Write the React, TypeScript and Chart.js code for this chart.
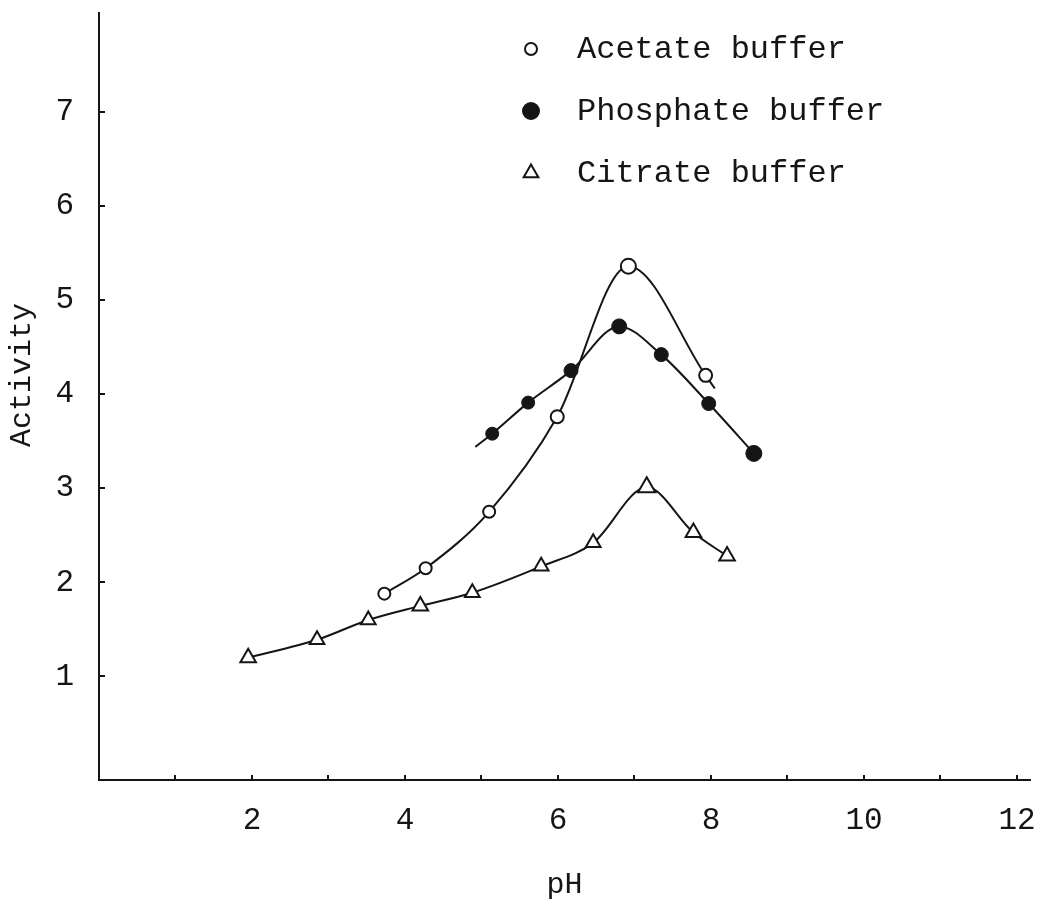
import React, { useEffect, useRef } from "react";
import { Chart, registerables } from "chart.js";
import { drawPoint } from "chart.js/helpers";

Chart.register(...registerables);

// Enzyme activity against pH in three buffer systems
const acetatePH = [3.73, 4.27, 5.1, 5.99, 6.92, 7.93];
const acetateActivity = [1.88, 2.15, 2.75, 3.76, 5.36, 4.2];
// the fitted curve runs a little past the last acetate reading
const acetateTailPH = [8.05];
const acetateTailActivity = [4.06];

const phosphatePH = [5.14, 5.61, 6.17, 6.8, 7.35, 7.97, 8.56];
const phosphateActivity = [3.58, 3.91, 4.25, 4.72, 4.42, 3.9, 3.37];
// the fitted curve starts a little before the first phosphate reading
const phosphateHeadPH = [4.92];
const phosphateHeadActivity = [3.44];

const citratePH = [1.95, 2.85, 3.52, 4.2, 4.88, 5.78, 6.46, 7.16, 7.77, 8.21];
const citrateActivity = [1.2, 1.39, 1.6, 1.75, 1.89, 2.17, 2.42, 3.01, 2.53, 2.28];

const seriesLabels = ["Acetate buffer", "Phosphate buffer", "Citrate buffer"];
const xTitle = "pH";
const yTitle = "Activity";

const xMarkValues = [1, 2, 3, 4, 5, 6, 7, 8, 9, 10, 11, 12];
const xLabelValues = [2, 4, 6, 8, 10, 12];
const yMarkValues = [1, 2, 3, 4, 5, 6, 7];
const yLabelValues = [1, 2, 3, 4, 5, 6, 7];

const FONT_FAMILY = '"Liberation Mono", "DejaVu Sans Mono", monospace';
const INK = "#151515";

const toPoints = (xs: number[], ys: number[]) => xs.map((x, i) => ({ x, y: ys[i] }));

// small inward tick marks on both axes, plus axis titles
const axisDecor = {
  id: "axisDecor",
  afterDraw(chart: any) {
    const { ctx, chartArea } = chart;
    const xs = chart.scales.x;
    const ys = chart.scales.y;
    ctx.save();
    ctx.strokeStyle = INK;
    ctx.lineWidth = 2;
    xMarkValues.forEach((v) => {
      const px = Math.round(xs.getPixelForValue(v));
      ctx.beginPath();
      ctx.moveTo(px, chartArea.bottom);
      ctx.lineTo(px, chartArea.bottom - 5);
      ctx.stroke();
    });
    yMarkValues.forEach((v) => {
      const py = Math.round(ys.getPixelForValue(v));
      ctx.beginPath();
      ctx.moveTo(chartArea.left, py);
      ctx.lineTo(chartArea.left + 6, py);
      ctx.stroke();
    });
    ctx.fillStyle = INK;
    ctx.font = `30px ${FONT_FAMILY}`;
    ctx.textAlign = "center";
    ctx.textBaseline = "middle";
    ctx.fillText(xTitle, (chartArea.left + chartArea.right) / 2, 885);
    ctx.translate(22, 375);
    ctx.rotate(-Math.PI / 2);
    ctx.fillText(yTitle, 0, 0);
    ctx.restore();
  },
};

// legend in the upper part of the plot: marker followed by its label
const markerLegend = {
  id: "markerLegend",
  afterDraw(chart: any) {
    const { ctx } = chart;
    const rows = [
      { ds: 0, y: 49, r: 6 },
      { ds: 1, y: 111, r: 8 },
      { ds: 2, y: 173, r: 8.5 },
    ];
    ctx.save();
    rows.forEach((row) => {
      const ds = chart.data.datasets[row.ds];
      ctx.fillStyle = ds.pointBackgroundColor;
      ctx.strokeStyle = INK;
      ctx.lineWidth = 2;
      drawPoint(ctx, { pointStyle: ds.pointStyle, radius: row.r, borderWidth: 2, rotation: 0 } as any, 531, row.y);
      ctx.fillStyle = INK;
      ctx.font = `32px ${FONT_FAMILY}`;
      ctx.textAlign = "left";
      ctx.textBaseline = "middle";
      ctx.fillText(ds.label, 577, row.y + 1);
    });
    ctx.restore();
  },
};

export default function App() {
  const canvasRef = useRef<HTMLCanvasElement>(null);

  useEffect(() => {
    const canvas = canvasRef.current;
    if (!canvas) return;

    const curve = (data: { x: number; y: number }[]) => ({
      data,
      showLine: true,
      pointRadius: 0,
      pointHoverRadius: 0,
      borderColor: INK,
      borderWidth: 2,
      cubicInterpolationMode: "monotone" as const,
      order: 1,
    });

    const noScalePadding = (scale: any) => {
      scale.paddingTop = 0;
      scale.paddingBottom = 0;
      scale.paddingLeft = 0;
      scale.paddingRight = 0;
    };

    const chart = new Chart(canvas, {
      type: "scatter",
      data: {
        datasets: [
          {
            label: seriesLabels[0],
            data: toPoints(acetatePH, acetateActivity),
            showLine: false,
            pointStyle: "circle",
            pointRadius: [6, 6, 6, 6.5, 7.5, 6.5],
            pointBorderWidth: 2,
            pointBackgroundColor: "#ffffff",
            pointBorderColor: INK,
            order: 0,
          },
          {
            label: seriesLabels[1],
            data: toPoints(phosphatePH, phosphateActivity),
            showLine: false,
            pointStyle: "circle",
            pointRadius: [6.5, 6.5, 7, 7.5, 7, 7, 8],
            pointBorderWidth: 1,
            pointBackgroundColor: INK,
            pointBorderColor: INK,
            order: 0,
          },
          {
            label: seriesLabels[2],
            data: toPoints(citratePH, citrateActivity),
            showLine: false,
            pointStyle: "triangle",
            pointRadius: [9, 8.5, 8.5, 9, 8.5, 8.5, 8.5, 10, 9, 9],
            pointBorderWidth: 2,
            pointBackgroundColor: "#ffffff",
            pointBorderColor: INK,
            order: 0,
          },
          curve(toPoints([...acetatePH, ...acetateTailPH], [...acetateActivity, ...acetateTailActivity])) as any,
          curve(toPoints([...phosphateHeadPH, ...phosphatePH], [...phosphateHeadActivity, ...phosphateActivity])) as any,
          curve(toPoints(citratePH, citrateActivity)) as any,
        ],
      },
      options: {
        animation: false,
        responsive: false,
        events: [],
        layout: { padding: { top: 13, right: 12, left: 0, bottom: 0 } },
        plugins: {
          legend: { display: false },
          tooltip: { enabled: false },
        },
        scales: {
          x: {
            type: "linear",
            min: 0,
            max: 12.17,
            grid: { display: false, drawTicks: false },
            border: { display: true, color: INK, width: 2 },
            ticks: {
              color: INK,
              padding: 22,
              font: { family: FONT_FAMILY, size: 31 },
              maxRotation: 0,
              autoSkip: false,
            },
            afterBuildTicks: (scale: any) => {
              scale.ticks = xLabelValues.map((value) => ({ value }));
            },
            afterFit: (scale: any) => {
              scale.height = 123;
              noScalePadding(scale);
            },
          },
          y: {
            type: "linear",
            min: -0.1,
            max: 8.05,
            grid: { display: false, drawTicks: false },
            border: { display: true, color: INK, width: 2 },
            ticks: {
              color: INK,
              padding: 25,
              font: { family: FONT_FAMILY, size: 31 },
              autoSkip: false,
            },
            afterBuildTicks: (scale: any) => {
              scale.ticks = yLabelValues.map((value) => ({ value }));
            },
            afterFit: (scale: any) => {
              scale.width = 99;
              noScalePadding(scale);
            },
          },
        },
      },
      plugins: [axisDecor, markerLegend],
    });

    return () => chart.destroy();
  }, []);

  return (
    <div style={{ position: "fixed", left: 0, top: 0, width: 1042, height: 903, background: "#ffffff" }}>
      <canvas ref={canvasRef} width={1042} height={903} style={{ display: "block" }} />
    </div>
  );
}
